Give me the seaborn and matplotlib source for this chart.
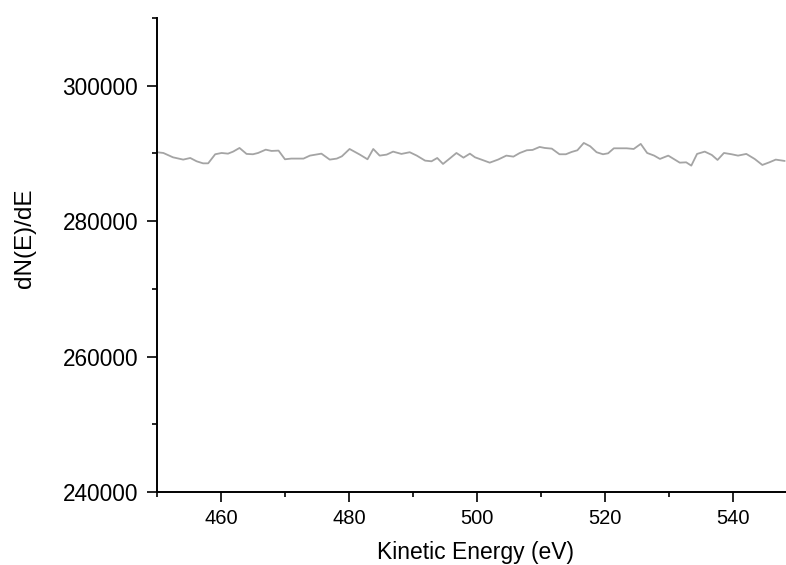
import matplotlib
matplotlib.use("Agg")
import matplotlib.pyplot as plt
from matplotlib.ticker import MultipleLocator
import pandas as pd
import seaborn as sns

# values
energy = [
    450.0, 451.0, 452.5, 454.1, 455.2, 456.2, 457.2, 458.0, 459.1, 460.1,
    461.1, 461.9, 462.9, 464.0, 465.0, 465.8, 467.0, 467.9, 469.0, 470.0,
    471.0, 472.9, 473.9, 475.7, 477.0, 478.1, 478.9, 480.1, 481.7, 482.9,
    483.8, 484.8, 485.9, 486.9, 488.2, 489.5, 490.6, 491.9, 492.9, 493.8,
    494.7, 495.8, 496.8, 497.9, 498.9, 499.7, 500.7, 502.0, 503.3, 504.6,
    505.7, 506.7, 507.8, 508.7, 509.8, 510.6, 511.7, 512.9, 513.9, 514.8,
    515.7, 516.7, 517.7, 518.7, 519.7, 520.5, 521.4, 522.3, 523.4, 524.5,
    525.6, 526.6, 527.7, 528.6, 529.9, 531.7, 532.7, 533.5, 534.4, 535.6,
    536.7, 537.6, 538.6, 539.8, 540.8, 542.1, 543.4, 544.6, 545.7, 546.7,
    548.1,
]
dnde = [
    290180, 290070, 289430, 289090, 289330, 288840, 288540, 288540, 289880, 290070,
    289970, 290270, 290810, 289930, 289880, 290070, 290560, 290370, 290420, 289140,
    289240, 289240, 289680, 289970, 289090, 289240, 289580, 290660, 289830, 289140,
    290660, 289680, 289830, 290270, 289930, 290180, 289680, 288940, 288840, 289330,
    288450, 289290, 290070, 289380, 289970, 289430, 289090, 288640, 289090, 289680,
    289530, 290070, 290470, 290520, 290960, 290810, 290710, 289880, 289880, 290220,
    290470, 291550, 291060, 290180, 289880, 290020, 290760, 290760, 290760, 290660,
    291410, 290070, 289680, 289190, 289680, 288640, 288690, 288200, 289930, 290270,
    289780, 289040, 290070, 289880, 289680, 289930, 289190, 288300, 288690, 289090,
    288890,
]
y_ticks = [240000, 260000, 280000, 300000]

df = pd.DataFrame({"Kinetic Energy (eV)": energy, "dN(E)/dE": dnde})

sns.set_style("ticks")
plt.rcParams["font.family"] = ["Liberation Sans", "DejaVu Sans"]

fig = plt.figure(figsize=(7.86, 5.65), dpi=100)
ax = fig.add_axes([0.1997, 0.1292, 0.8003, 0.8389])

sns.lineplot(data=df, x="Kinetic Energy (eV)", y="dN(E)/dE", ax=ax,
             color="#a4a4a4", linewidth=1.3)

ax.set_xlim(450, 548.3)
ax.set_ylim(240000, 310000)
ax.xaxis.set_major_locator(MultipleLocator(20))
ax.xaxis.set_minor_locator(MultipleLocator(10))
ax.yaxis.set_minor_locator(MultipleLocator(10000))
ax.set_yticks(y_ticks)

sns.despine(ax=ax)
for side in ["left", "bottom"]:
    ax.spines[side].set_linewidth(1.4)
    ax.spines[side].set_color("black")

ax.tick_params(which="major", direction="out", length=7, width=1.2,
               colors="black")
ax.tick_params(which="minor", direction="out", length=3.6, width=1.2,
               colors="black")
ax.tick_params(axis="x", which="major", labelsize=14.5, pad=5.5)
ax.tick_params(axis="y", which="major", labelsize=16.3, pad=6.5)

ax.set_xlabel("Kinetic Energy (eV)", fontsize=16.5, color="black")
ax.set_ylabel("dN(E)/dE", fontsize=17.5, color="black")
ax.xaxis.set_label_coords(0.506, -0.104)
ax.yaxis.set_label_coords(-0.192, 0.535)

fig.savefig("out.png", dpi=100)
